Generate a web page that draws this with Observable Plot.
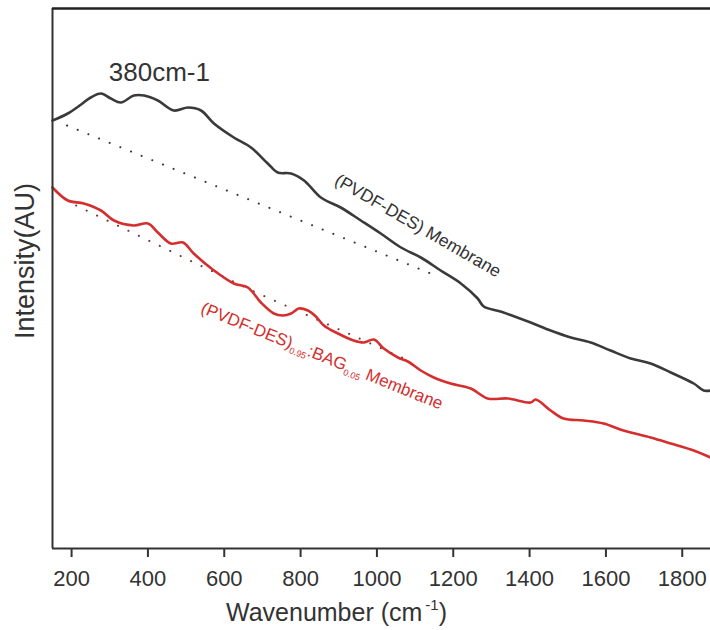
<!DOCTYPE html>
<html>
<head>
<meta charset="utf-8">
<script src="https://cdn.jsdelivr.net/npm/d3@7"></script>
<script src="https://cdn.jsdelivr.net/npm/@observablehq/plot@0.6"></script>
<style>
  html, body { margin: 0; padding: 0; background: #fff; }
  #chart svg { display: block; }
</style>
</head>
<body>
<div id="chart"></div>
<script>
// ---- data ----
const xTicks = [200, 400, 600, 800, 1000, 1200, 1400, 1600, 1800];

const wnBlack = [150, 190, 225, 250, 277, 303, 329, 363, 390, 426, 468, 505, 539, 573, 625, 670, 714, 740, 775, 809, 853, 905, 958, 1010, 1063, 1115, 1167, 1220, 1264, 1280, 1324, 1403, 1455, 1508, 1560, 1612, 1665, 1717, 1770, 1830, 1856, 1874];
const intBlack = [428, 435, 444, 451, 455, 450, 446, 453, 453, 448, 438, 441, 438, 425, 411, 401, 385, 376, 375, 368, 351, 341, 328, 315, 301, 291, 278, 265, 250, 242, 237, 226, 218, 211, 206, 198, 190, 185, 176, 165, 158, 158];

const wnRed = [150, 190, 232, 277, 311, 363, 400, 426, 460, 492, 520, 573, 625, 662, 696, 730, 754, 775, 795, 819, 840, 861, 898, 939, 966, 992, 1018, 1055, 1081, 1115, 1149, 1193, 1246, 1290, 1343, 1403, 1416, 1455, 1489, 1542, 1594, 1646, 1717, 1770, 1830, 1874];
const intRed = [361, 348, 345, 338, 328, 323, 325, 316, 305, 306, 295, 278, 265, 261, 246, 235, 233, 235, 240, 238, 232, 223, 215, 208, 206, 209, 200, 191, 187, 178, 171, 165, 160, 150, 150, 146, 149, 138, 130, 128, 125, 118, 111, 105, 98, 91];

// dotted baselines
const wnBaseBlack = [188, 1141];
const intBaseBlack = [423, 275];
const wnBaseRed = [212, 678, 1089];
const intBaseRed = [343, 257, 187];

// annotations
const annWn = [430, 886, 536];
const annInt = [476, 365, 236];
const annText = ["380cm-1", "(PVDF-DES) Membrane", "(PVDF-DES)0.95:BAG0.05 Membrane"];

const xDomain = [150, 1874];
const yDomain = [0, 540];

// ---- build tables ----
const black = wnBlack.map((w, i) => ({w, v: intBlack[i]}));
const red = wnRed.map((w, i) => ({w, v: intRed[i]}));
const baseBlack = wnBaseBlack.map((w, i) => ({w, v: intBaseBlack[i]}));
const baseRed = wnBaseRed.map((w, i) => ({w, v: intBaseRed[i]}));
const ann = annText.map((t, i) => ({w: annWn[i], v: annInt[i], t}));

const FONT = "'Liberation Sans', Arial, Helvetica, sans-serif";
const DARK = "#333333";
const RED = "#d42e2e";

const plot = Plot.plot({
  width: 710,
  height: 630,
  marginLeft: 52,
  marginRight: 0,
  marginTop: 8,
  marginBottom: 82,
  style: {fontFamily: FONT, color: DARK, background: "#fff"},
  x: {domain: xDomain},
  y: {domain: yDomain},
  marks: [
    Plot.line(baseBlack, {x: "w", y: "v", stroke: DARK, strokeWidth: 2, strokeDasharray: "0.1,11.4", strokeLinecap: "round"}),
    Plot.line(baseRed, {x: "w", y: "v", stroke: "#7a3030", strokeWidth: 2, strokeDasharray: "0.1,11.5", strokeLinecap: "round"}),
    Plot.line(black, {x: "w", y: "v", stroke: "#3a3a3a", strokeWidth: 2.6, curve: "catmull-rom"}),
    Plot.line(red, {x: "w", y: "v", stroke: RED, strokeWidth: 2.6, curve: "catmull-rom"}),
    Plot.text([ann[0]], {x: "w", y: "v", text: "t", fontSize: 26, fill: DARK, textAnchor: "middle"}),
    Plot.text([ann[1]], {x: "w", y: "v", text: "t", fontSize: 17.5, fill: DARK, textAnchor: "start", rotate: 30, lineAnchor: "bottom", className: "lblblack"}),
    Plot.text([ann[2]], {x: "w", y: "v", text: "t", fontSize: 17, fill: RED, textAnchor: "start", rotate: 22, lineAnchor: "bottom", className: "lblred"}),
    Plot.ruleX([xDomain[0]], {stroke: DARK, strokeWidth: 2}),
    Plot.ruleY([yDomain[0]], {stroke: DARK, strokeWidth: 2}),
    Plot.ruleY([yDomain[1]], {stroke: "#222", strokeWidth: 2.5}),
    Plot.axisX({ticks: xTicks, tickSize: 9, tickPadding: 13, fontSize: 22, strokeWidth: 2, label: null, tickFormat: d => String(d), className: "xaxis"}),
    Plot.axisY({ticks: [], label: null})
  ]
});

document.getElementById("chart").appendChild(plot);

const svg = d3.select(plot);

// enforce tick label size
svg.selectAll("[aria-label='x-axis tick label']").attr("font-size", 22);
svg.selectAll("[aria-label='x-axis tick label'] text").attr("font-size", 22);

// subscripts for the red label
svg.selectAll(".lblred text").each(function() {
  const t = d3.select(this);
  t.text(null);
  t.append("tspan").text("(PVDF-DES)");
  t.append("tspan").attr("font-size", 9).attr("dy", 4).text("0.95");
  t.append("tspan").attr("dy", -4).text(":BAG");
  t.append("tspan").attr("font-size", 9).attr("dy", 4).text("0.05");
  t.append("tspan").attr("dy", -4).text(" Membrane");
});

// axis titles
const xt = svg.append("text")
  .attr("x", 226).attr("y", 621)
  .attr("text-anchor", "start")
  .attr("font-family", FONT).attr("font-size", 25).attr("fill", DARK);
xt.append("tspan").text("Wavenumber (cm");
xt.append("tspan").attr("font-size", 15).attr("dy", -11).attr("dx", 3).text("-1");
xt.append("tspan").attr("dy", 11).text(")");

svg.append("text")
  .attr("transform", "translate(34,261) rotate(-90)")
  .attr("text-anchor", "middle")
  .attr("font-family", FONT).attr("font-size", 27).attr("fill", DARK)
  .text("Intensity(AU)");
</script>
</body>
</html>
